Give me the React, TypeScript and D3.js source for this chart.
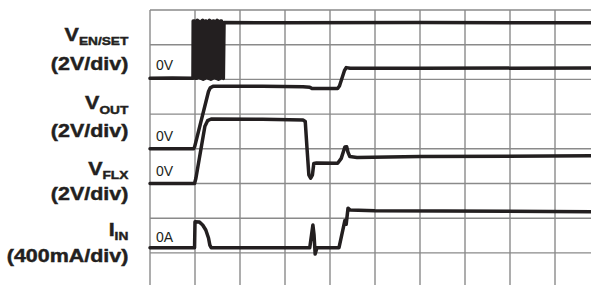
import React from "react";
import * as d3 from "d3";

// scope screen: 10 horizontal divisions, 8 vertical divisions
const X_DIVS = d3.range(0, 11);
const Y_DIVS = d3.range(0, 9);

// each trace: [time (div), value in its own units]
// V_EN/SET in volts (2V/div), zero level at 6.03 div
const enSetTrace: [number, number][] = [
  [0, 0], [0.5, 0.02], [0.955, 0],
  [0.96, 3.3], [0.99, 3.3], [1.0, 0], [1.04, 0],
  [1.05, 3.35], [1.08, 3.3], [1.09, 0.05], [1.14, 0],
  [1.15, 3.3], [1.17, 3.35], [1.18, -0.05], [1.22, 0],
  [1.23, 3.3], [1.25, 3.3], [1.26, 0.05], [1.31, 0],
  [1.32, 3.35], [1.34, 3.3], [1.35, -0.05], [1.39, 0],
  [1.4, 3.3], [1.42, 3.3], [1.43, 0.05], [1.48, 0],
  [1.49, 3.35], [1.51, 3.3], [1.52, -0.05], [1.56, 0],
  [1.57, 3.3], [1.59, 3.3], [1.6, 0.05], [1.63, 0],
  [1.645, 3.22], [3, 3.2], [6, 3.22], [10, 3.2],
];

// V_OUT in volts (2V/div), zero level at 4.0 div
const vOutTrace: [number, number][] = [
  [0, 0], [0.97, 0], [0.99, 0.1], [1.3, 3.3], [1.34, 3.52], [1.4, 3.6],
  [2.5, 3.6], [3.4, 3.58], [3.55, 3.55], [3.6, 3.47], [3.7, 3.47],
  [4.17, 3.48], [4.21, 3.62], [4.32, 4.5], [4.36, 4.68], [4.45, 4.64],
  [6, 4.64], [10, 4.66],
];

// V_FLX in volts (2V/div), zero level at 3.0 div
const vFlxTrace: [number, number][] = [
  [0, 0], [0.99, 0], [1.02, 0.3], [1.22, 3.3], [1.28, 3.62], [1.36, 3.72],
  [2.5, 3.7], [3.4, 3.66], [3.45, 3.58], [3.49, 2.0], [3.53, 0.5],
  [3.57, 0.3], [3.61, 0.5], [3.64, 1.15], [3.7, 1.18], [4.17, 1.17],
  [4.25, 1.45], [4.33, 2.1], [4.37, 2.12], [4.4, 1.8], [4.44, 1.55],
  [4.6, 1.5], [6, 1.55], [10, 1.6],
];

// I_IN in mA (400mA/div), zero level at 1.15 div
const iInTrace: [number, number][] = [
  [0, 0], [0.99, 0], [1.0, 300], [1.1, 295], [1.17, 262], [1.24, 204],
  [1.3, 112], [1.33, 30], [1.36, 0], [3.55, 0], [3.59, 150], [3.62, 262],
  [3.645, 150], [3.67, -73], [3.71, 0], [4.2, 0], [4.3, 240], [4.33, 312],
  [4.36, 270], [4.4, 455], [4.45, 434], [5, 425], [10, 415],
];

const channels = [
  { name: "V", sub: "EN/SET", scaleLabel: "(2V/div)", zero: "0V", offset: 6.03, perDiv: 2, data: enSetTrace },
  { name: "V", sub: "OUT", scaleLabel: "(2V/div)", zero: "0V", offset: 4.0, perDiv: 2, data: vOutTrace },
  { name: "V", sub: "FLX", scaleLabel: "(2V/div)", zero: "0V", offset: 3.0, perDiv: 2, data: vFlxTrace },
  { name: "I", sub: "IN", scaleLabel: "(400mA/div)", zero: "0A", offset: 1.15, perDiv: 400, data: iInTrace },
];

// label layout (pixel baselines)
const labelLayout = [
  { nameY: 40.7, scaleY: 70, zeroY: 70 },
  { nameY: 109.3, scaleY: 136.7, zeroY: 141 },
  { nameY: 175, scaleY: 200, zeroY: 176 },
  { nameY: 236, scaleY: 261.7, zeroY: 241.7 },
];

const W = 591;
const H = 285;
const ink = "#231f20";
const gridColor = "#8a8a8a";

export default function App() {
  const x = d3.scaleLinear().domain([0, 10]).range([150, 600]);
  const y = d3.scaleLinear().domain([0, 8]).range([287.6, 10]);

  return (
    <svg
      width={W}
      height={H}
      style={{ position: "absolute", left: 0, top: 0, background: "#fff" }}
      fontFamily="'Liberation Sans', Arial, Helvetica, sans-serif"
    >
      <g>
        {X_DIVS.map((d) => (
          <line key={"gx" + d} x1={x(d)} x2={x(d)} y1={y(8)} y2={y(0)} stroke={gridColor} strokeWidth={1.4} />
        ))}
        {Y_DIVS.map((d) => (
          <line key={"gy" + d} x1={x(0)} x2={x(10)} y1={y(d)} y2={y(d)} stroke={gridColor} strokeWidth={1.4} />
        ))}
      </g>

      {channels.map((ch, i) => {
        const line = d3
          .line<[number, number]>()
          .x((p) => x(p[0]))
          .y((p) => y(ch.offset + p[1] / ch.perDiv));
        return (
          <path
            key={"tr" + i}
            d={line(ch.data) || ""}
            fill="none"
            stroke={ink}
            strokeWidth={3.5}
            strokeLinejoin="round"
            strokeLinecap="round"
          />
        );
      })}

      {channels.map((ch, i) => (
        <text key={"z" + i} x={156} y={labelLayout[i].zeroY} fontSize={14} fill={ink}>
          {ch.zero}
        </text>
      ))}

      {channels.map((ch, i) => (
        <g key={"lb" + i} fontWeight="bold" fill={ink} stroke={ink} strokeWidth={0.45}>
          <g transform={`translate(128.3,${labelLayout[i].nameY}) scale(1.16,1)`}>
            <text textAnchor="end" fontSize={18.5}>
              {ch.name}
              <tspan fontSize={11.8} dy={4.3}>{ch.sub}</tspan>
            </text>
          </g>
          <g transform={`translate(128.3,${labelLayout[i].scaleY}) scale(1.16,1)`}>
            <text textAnchor="end" fontSize={18.5}>
              {ch.scaleLabel}
            </text>
          </g>
        </g>
      ))}
    </svg>
  );
}
